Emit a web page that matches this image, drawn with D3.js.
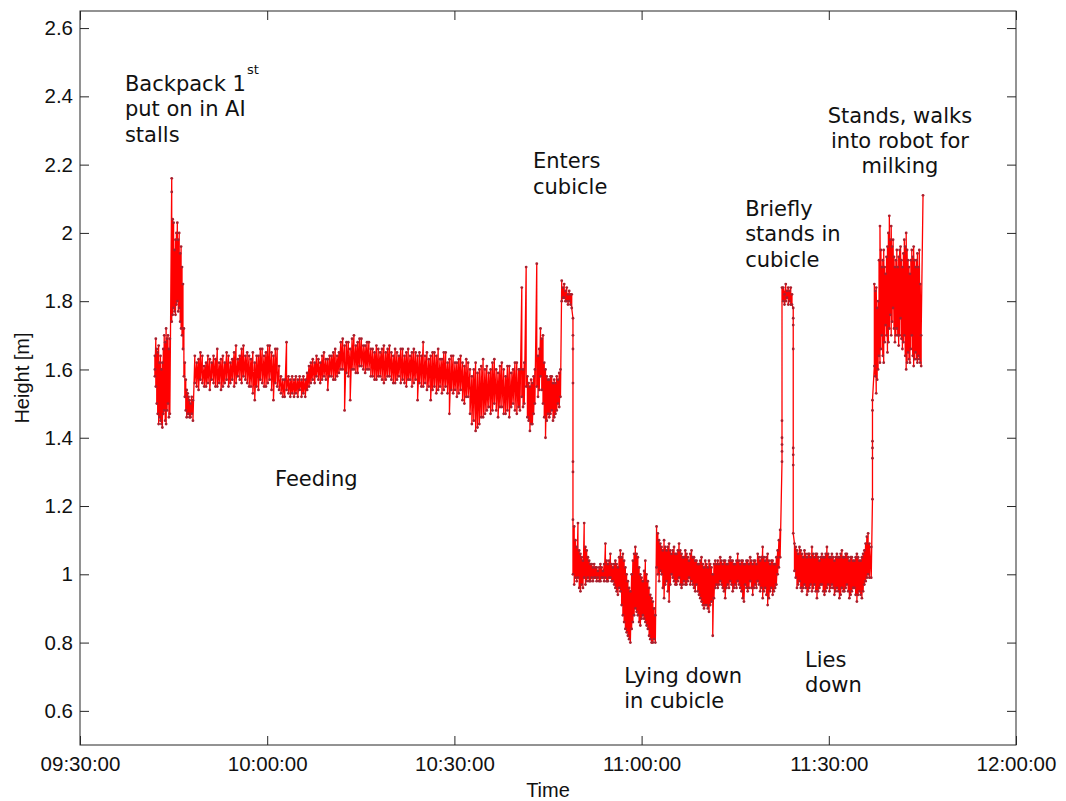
<!DOCTYPE html>
<html>
<head>
<meta charset="utf-8">
<title>Height over time</title>
<script src="https://cdnjs.cloudflare.com/ajax/libs/d3/7.8.5/d3.min.js"></script>
<style>
    body { margin: 0; background: #fff; }
    .tick text { font-family: "Liberation Sans", Arial, sans-serif; font-size: 20.5px; fill: #111; }
    .note { font-family: "DejaVu Sans", Verdana, sans-serif; font-size: 21px; fill: #111; }
    .axis-title { font-family: "Liberation Sans", Arial, sans-serif; font-size: 20px; fill: #111; }
</style>
</head>
<body>
<div id="chart"></div>
<script>
    // rows: [minutes after 09:30, height, height, ...] (heights visited in order at that time)
    var standing1 = [
        [12.0, 1.60, 1.64, 1.58], [12.15, 1.69, 1.55], [12.3, 1.66, 1.50], [12.45, 1.65, 1.47],
        [12.6, 1.67, 1.44], [12.75, 1.62, 1.46], [12.9, 1.64, 1.45], [13.05, 1.60, 1.44],
        [13.2, 1.62, 1.43], [13.35, 1.66, 1.47], [13.5, 1.70, 1.48], [13.65, 1.68, 1.45],
        [13.8, 1.72, 1.44], [13.95, 1.69, 1.48], [14.1, 1.70, 1.50], [14.25, 1.66, 1.46],
        [14.4, 1.69, 1.47], [14.7, 2.16, 2.12, 1.74], [14.85, 2.04, 1.76], [15.0, 2.03, 1.78],
        [15.15, 1.95, 1.77], [15.3, 1.98, 1.76], [15.45, 2.00, 1.79], [15.6, 2.03, 1.80],
        [15.75, 1.98, 1.77], [15.9, 2.00, 1.78], [16.05, 1.94, 1.74], [16.2, 1.96, 1.72],
        [16.35, 1.90, 1.70], [16.5, 1.85, 1.66], [16.65, 1.72, 1.58], [16.8, 1.62, 1.52],
        [16.95, 1.57, 1.48], [17.1, 1.54, 1.46], [17.25, 1.53, 1.47], [17.4, 1.52, 1.47],
        [17.55, 1.51, 1.46], [17.7, 1.50, 1.46], [17.9, 1.52, 1.47], [18.1, 1.51, 1.45]
    ];

    var feeding = [
        [18.4, 1.64, 1.56], [18.7, 1.62, 1.55], [19.0, 1.63, 1.54], [19.3, 1.65, 1.57], [19.6, 1.64, 1.56],
        [19.9, 1.61, 1.55], [20.2, 1.62, 1.55], [20.5, 1.64, 1.56], [20.8, 1.63, 1.54], [21.1, 1.62, 1.57],
        [21.4, 1.64, 1.56], [21.7, 1.63, 1.55], [22.0, 1.66, 1.55], [22.3, 1.62, 1.56], [22.6, 1.63, 1.54],
        [22.9, 1.64, 1.55], [23.2, 1.62, 1.56], [23.5, 1.65, 1.57], [23.8, 1.64, 1.55], [24.1, 1.62, 1.56],
        [24.4, 1.63, 1.57], [24.7, 1.65, 1.55], [25.0, 1.67, 1.56], [25.3, 1.63, 1.58], [25.6, 1.64, 1.57],
        [25.9, 1.66, 1.56], [26.2, 1.67, 1.58], [26.5, 1.64, 1.57], [26.8, 1.65, 1.56], [27.1, 1.64, 1.55],
        [27.4, 1.63, 1.55], [27.7, 1.65, 1.53], [28.0, 1.62, 1.51], [28.3, 1.64, 1.55], [28.6, 1.64, 1.54],
        [28.9, 1.66, 1.57], [29.2, 1.66, 1.56], [29.5, 1.64, 1.55], [29.8, 1.65, 1.55], [30.1, 1.67, 1.56],
        [30.4, 1.67, 1.57], [30.7, 1.65, 1.54], [31.0, 1.64, 1.51], [31.3, 1.66, 1.56], [31.6, 1.66, 1.55],
        [31.9, 1.61, 1.54], [32.2, 1.58, 1.53], [32.5, 1.57, 1.52], [32.8, 1.57, 1.52], [33.1, 1.68, 1.54],
        [33.4, 1.58, 1.53], [33.7, 1.57, 1.52], [34.0, 1.58, 1.53], [34.3, 1.57, 1.52], [34.6, 1.58, 1.53],
        [34.9, 1.57, 1.52], [35.2, 1.58, 1.54], [35.5, 1.57, 1.52], [35.8, 1.58, 1.53], [36.1, 1.57, 1.52],
        [36.4, 1.59, 1.54], [36.7, 1.61, 1.55], [37.0, 1.62, 1.56], [37.3, 1.63, 1.57], [37.6, 1.62, 1.56],
        [37.9, 1.64, 1.58], [38.2, 1.63, 1.57], [38.5, 1.62, 1.56], [38.8, 1.64, 1.57], [39.1, 1.65, 1.58],
        [39.4, 1.63, 1.57], [39.7, 1.63, 1.54], [40.0, 1.64, 1.58], [40.3, 1.64, 1.58], [40.6, 1.65, 1.57],
        [40.9, 1.66, 1.57], [41.2, 1.64, 1.58], [41.5, 1.65, 1.59], [41.8, 1.68, 1.60], [42.1, 1.69, 1.60],
        [42.4, 1.67, 1.48], [42.7, 1.68, 1.59], [43.0, 1.68, 1.58], [43.3, 1.66, 1.51], [43.6, 1.69, 1.60],
        [43.9, 1.70, 1.60], [44.2, 1.67, 1.59], [44.5, 1.68, 1.59], [44.8, 1.69, 1.61], [45.1, 1.69, 1.61],
        [45.4, 1.67, 1.60], [45.7, 1.67, 1.59], [46.0, 1.68, 1.60], [46.3, 1.68, 1.60], [46.6, 1.66, 1.58],
        [46.9, 1.66, 1.58], [47.2, 1.65, 1.57], [47.5, 1.67, 1.57], [47.8, 1.66, 1.58], [48.1, 1.65, 1.58],
        [48.4, 1.66, 1.57], [48.7, 1.67, 1.56], [49.0, 1.65, 1.57], [49.3, 1.66, 1.58], [49.6, 1.67, 1.58],
        [49.9, 1.65, 1.57], [50.2, 1.64, 1.56], [50.5, 1.66, 1.56], [50.8, 1.65, 1.57], [51.1, 1.64, 1.58],
        [51.4, 1.66, 1.56], [51.7, 1.66, 1.57], [52.0, 1.64, 1.56], [52.3, 1.65, 1.55], [52.6, 1.66, 1.57],
        [52.9, 1.64, 1.57], [53.2, 1.65, 1.55], [53.5, 1.66, 1.56], [53.8, 1.65, 1.57], [54.1, 1.64, 1.51],
        [54.4, 1.65, 1.56], [54.7, 1.64, 1.55], [55.0, 1.68, 1.55], [55.3, 1.64, 1.56], [55.6, 1.65, 1.54],
        [55.9, 1.63, 1.55], [56.2, 1.64, 1.51], [56.5, 1.65, 1.54], [56.8, 1.65, 1.55], [57.1, 1.64, 1.53],
        [57.4, 1.66, 1.54], [57.7, 1.63, 1.55], [58.0, 1.63, 1.53], [58.3, 1.65, 1.54], [58.6, 1.65, 1.55],
        [58.9, 1.62, 1.53], [59.2, 1.63, 1.47], [59.5, 1.64, 1.54], [59.8, 1.64, 1.53], [60.1, 1.62, 1.54],
        [60.4, 1.62, 1.52], [60.7, 1.63, 1.53], [61.0, 1.64, 1.54], [61.3, 1.62, 1.51], [61.6, 1.61, 1.50],
        [61.9, 1.63, 1.52], [62.2, 1.62, 1.52], [62.5, 1.60, 1.47], [62.8, 1.58, 1.44], [63.1, 1.60, 1.45],
        [63.4, 1.62, 1.42], [63.7, 1.59, 1.43], [64.0, 1.60, 1.44], [64.3, 1.61, 1.46], [64.6, 1.63, 1.46],
        [64.9, 1.60, 1.47], [65.2, 1.61, 1.48], [65.5, 1.59, 1.49], [65.8, 1.60, 1.47], [66.1, 1.62, 1.48],
        [66.4, 1.63, 1.50], [66.7, 1.60, 1.48], [67.0, 1.59, 1.46], [67.3, 1.61, 1.49], [67.6, 1.62, 1.49],
        [67.9, 1.60, 1.47], [68.2, 1.58, 1.47], [68.5, 1.61, 1.48], [68.8, 1.61, 1.46], [69.1, 1.59, 1.49],
        [69.4, 1.60, 1.50], [69.7, 1.62, 1.48], [70.0, 1.62, 1.47], [70.3, 1.60, 1.49]
    ];

    var enterCubicle = [
        [70.5, 1.60, 1.48], [70.8, 1.84, 1.52], [71.0, 1.60, 1.49], [71.2, 1.62, 1.50], [71.5, 1.90, 1.55],
        [71.7, 1.58, 1.46], [71.9, 1.56, 1.45], [72.1, 1.55, 1.42], [72.3, 1.57, 1.44], [72.5, 1.56, 1.44],
        [72.7, 1.58, 1.47], [72.9, 1.60, 1.50], [73.2, 1.91, 1.55], [73.4, 1.64, 1.52], [73.6, 1.66, 1.54],
        [73.8, 1.72, 1.58], [74.0, 1.69, 1.54], [74.2, 1.70, 1.50], [74.4, 1.62, 1.46], [74.6, 1.60, 1.40],
        [74.8, 1.58, 1.45], [75.0, 1.57, 1.47], [75.2, 1.57, 1.46], [75.4, 1.58, 1.47], [75.6, 1.58, 1.48],
        [75.8, 1.56, 1.45], [76.0, 1.57, 1.46], [76.2, 1.56, 1.47], [76.4, 1.58, 1.48], [76.6, 1.57, 1.50],
        [76.8, 1.59, 1.49], [77.0, 1.60, 1.52], [77.2, 1.86, 1.80], [77.4, 1.84, 1.81], [77.6, 1.85, 1.81],
        [77.8, 1.83, 1.80], [78.0, 1.84, 1.80], [78.2, 1.82, 1.79], [78.4, 1.83, 1.80], [78.6, 1.82, 1.79],
        [78.8, 1.82, 1.78], [79.0, 1.75, 1.70, 1.66, 1.56, 1.33, 1.30, 1.16, 1.00]
    ];

    var lying1 = [
        [79.2, 1.14, 0.97], [79.4, 1.10, 0.99], [79.6, 1.08, 0.98], [79.8, 1.15, 0.99], [80.0, 1.07, 0.96],
        [80.2, 1.06, 0.95], [80.4, 1.05, 0.97], [80.6, 1.04, 0.96], [80.8, 1.15, 0.99], [81.0, 1.08, 0.97],
        [81.2, 1.07, 0.98], [81.4, 1.05, 0.99], [81.6, 1.04, 0.98], [81.8, 1.03, 0.98], [82.0, 1.03, 0.99],
        [82.2, 1.02, 0.98], [82.4, 1.03, 0.99], [82.6, 1.02, 0.99], [82.8, 1.02, 0.98], [83.0, 1.01, 0.99],
        [83.2, 1.02, 0.98], [83.4, 1.03, 0.98], [83.6, 1.02, 0.99], [83.8, 1.01, 0.99], [84.0, 1.03, 0.98],
        [84.2, 1.09, 0.99], [84.4, 1.04, 0.98], [84.6, 1.03, 0.98], [84.8, 1.04, 0.99], [85.0, 1.06, 0.99],
        [85.2, 1.03, 0.98], [85.4, 1.02, 0.98], [85.6, 1.03, 0.97], [85.8, 1.04, 0.96], [86.0, 1.03, 0.95],
        [86.2, 1.02, 0.94], [86.4, 1.05, 0.96], [86.6, 1.07, 0.95], [86.8, 1.05, 0.91], [87.0, 1.06, 0.88],
        [87.2, 1.04, 0.86], [87.4, 1.02, 0.84], [87.6, 1.00, 0.83], [87.8, 0.98, 0.82], [88.0, 0.96, 0.81],
        [88.2, 0.95, 0.80], [88.4, 1.00, 0.84], [88.6, 1.04, 0.86], [88.8, 1.06, 0.88], [89.0, 1.08, 0.90],
        [89.2, 1.06, 0.89], [89.4, 1.05, 0.88], [89.6, 1.02, 0.86], [89.8, 1.00, 0.85], [90.0, 0.99, 0.87],
        [90.2, 0.98, 0.88], [90.4, 1.01, 0.87], [90.6, 1.04, 0.86], [90.8, 1.00, 0.85], [91.0, 0.98, 0.84],
        [91.2, 0.96, 0.82], [91.4, 0.94, 0.81], [91.6, 0.93, 0.80], [91.8, 0.92, 0.80], [92.0, 0.90, 0.81],
        [92.2, 0.88, 0.80],
        [92.4, 1.14, 1.02], [92.6, 1.12, 1.00], [92.8, 1.10, 0.98], [93.0, 1.09, 1.01], [93.2, 1.08, 1.00],
        [93.4, 1.07, 0.96], [93.6, 1.10, 0.93], [93.8, 1.08, 0.97], [94.0, 1.07, 0.98], [94.2, 1.08, 0.95],
        [94.4, 1.09, 0.92], [94.6, 1.07, 0.97], [94.8, 1.06, 1.00], [95.0, 1.07, 0.99], [95.2, 1.08, 0.98],
        [95.4, 1.06, 0.97], [95.6, 1.06, 0.97], [95.8, 1.07, 0.98], [96.0, 1.09, 0.99], [96.2, 1.07, 0.97],
        [96.4, 1.06, 0.96], [96.6, 1.05, 0.97], [96.8, 1.05, 0.98], [97.0, 1.07, 0.97], [97.2, 1.06, 0.97],
        [97.4, 1.05, 0.98], [97.6, 1.04, 0.99], [97.8, 1.06, 0.97], [98.0, 1.07, 0.98], [98.2, 1.05, 0.97],
        [98.4, 1.05, 0.96], [98.6, 1.04, 0.95], [98.8, 1.04, 0.97], [99.0, 1.03, 0.95], [99.2, 1.03, 0.94],
        [99.4, 1.04, 0.93], [99.6, 1.05, 0.92], [99.8, 1.03, 0.91], [100.0, 1.02, 0.90], [100.2, 1.04, 0.91],
        [100.4, 1.03, 0.91], [100.6, 1.02, 0.90], [100.8, 1.04, 0.89], [101.0, 1.03, 0.91], [101.2, 1.02, 0.92],
        [101.4, 1.00, 0.82], [101.6, 1.03, 0.93], [101.8, 1.04, 0.96], [102.0, 1.03, 0.97], [102.2, 1.04, 0.96],
        [102.4, 1.03, 0.97], [102.6, 1.05, 0.98], [102.8, 1.04, 0.97], [103.0, 1.03, 0.96], [103.2, 1.04, 0.95],
        [103.4, 1.04, 0.93], [103.6, 1.03, 0.96], [103.8, 1.03, 0.97], [104.0, 1.04, 0.96], [104.2, 1.05, 0.98],
        [104.4, 1.04, 0.97], [104.6, 1.04, 0.95], [104.8, 1.03, 0.96], [105.0, 1.03, 0.97], [105.2, 1.04, 0.96],
        [105.4, 1.06, 0.98], [105.6, 1.04, 0.97], [105.8, 1.03, 0.96], [106.0, 1.04, 0.95], [106.2, 1.04, 0.93],
        [106.4, 1.03, 0.92], [106.6, 1.03, 0.97], [106.8, 1.04, 0.96], [107.0, 1.04, 0.95], [107.2, 1.03, 0.96],
        [107.4, 1.05, 0.98], [107.6, 1.04, 0.96], [107.8, 1.03, 0.94], [108.0, 1.04, 0.96], [108.2, 1.04, 0.97],
        [108.4, 1.03, 0.96], [108.6, 1.06, 0.98], [108.8, 1.05, 0.97], [109.0, 1.04, 0.95], [109.2, 1.05, 0.96],
        [109.4, 1.08, 0.93], [109.6, 1.05, 0.95], [109.8, 1.04, 0.96], [110.0, 1.05, 0.94], [110.2, 1.06, 0.91],
        [110.4, 1.04, 0.93], [110.6, 1.03, 0.95], [110.8, 1.04, 0.96], [111.0, 1.04, 0.94], [111.2, 1.03, 0.95],
        [111.4, 1.03, 0.96], [111.6, 1.05, 0.97], [111.8, 1.07, 1.00], [112.0, 1.10, 1.02], [112.2, 1.13, 1.05]
    ];

    var briefStand = [
        [112.5, 1.33, 1.36, 1.38, 1.40, 1.45, 1.84], [112.7, 1.80, 1.84], [112.9, 1.82, 1.79],
        [113.1, 1.85, 1.80], [113.3, 1.83, 1.81], [113.5, 1.84, 1.79], [113.7, 1.83, 1.80],
        [113.9, 1.84, 1.79], [114.1, 1.82, 1.79],
        [114.3, 1.78, 1.75, 1.73, 1.66, 1.37, 1.35, 1.32, 1.12]
    ];

    var lying2 = [
        [114.5, 1.09, 1.01], [114.7, 1.08, 0.99], [114.9, 1.07, 0.96], [115.1, 1.06, 0.97], [115.3, 1.08, 0.98],
        [115.5, 1.07, 0.96], [115.7, 1.06, 0.95], [115.9, 1.05, 0.96], [116.1, 1.07, 0.97], [116.3, 1.06, 0.96],
        [116.5, 1.05, 0.94], [116.7, 1.06, 0.95], [116.9, 1.06, 0.96], [117.1, 1.05, 0.97], [117.3, 1.08, 0.95],
        [117.5, 1.06, 0.96], [117.7, 1.05, 0.97], [117.9, 1.06, 0.95], [118.1, 1.06, 0.93], [118.3, 1.05, 0.95],
        [118.5, 1.04, 0.96], [118.7, 1.05, 0.97], [118.9, 1.06, 0.97], [119.1, 1.05, 0.95], [119.3, 1.05, 0.94],
        [119.5, 1.06, 0.95], [119.7, 1.08, 0.96], [119.9, 1.06, 0.97], [120.1, 1.05, 0.95], [120.3, 1.05, 0.96],
        [120.5, 1.06, 0.97], [120.7, 1.05, 0.96], [120.9, 1.04, 0.94], [121.1, 1.05, 0.95], [121.3, 1.06, 0.96],
        [121.5, 1.05, 0.95], [121.7, 1.05, 0.93], [121.9, 1.06, 0.94], [122.1, 1.07, 0.96], [122.3, 1.05, 0.95],
        [122.5, 1.05, 0.95], [122.7, 1.06, 0.96], [122.9, 1.06, 0.97], [123.1, 1.05, 0.95], [123.3, 1.04, 0.93],
        [123.5, 1.05, 0.94], [123.7, 1.05, 0.95], [123.9, 1.04, 0.96], [124.1, 1.04, 0.96], [124.3, 1.05, 0.94],
        [124.5, 1.06, 0.92], [124.7, 1.05, 0.94], [124.9, 1.04, 0.95], [125.1, 1.04, 0.94], [125.3, 1.05, 0.93],
        [125.5, 1.06, 0.95], [125.7, 1.07, 0.97], [125.9, 1.09, 0.98], [126.1, 1.11, 0.99], [126.3, 1.12, 1.00],
        [126.5, 1.09, 0.99], [126.8, 1.08, 0.99]
    ];

    var robot = [
        [127.0, 1.22, 1.34, 1.37, 1.39, 1.48, 1.51], [127.3, 1.61, 1.85], [127.45, 1.58, 1.83],
        [127.6, 1.53, 1.84], [127.75, 1.57, 1.78], [127.9, 1.60, 1.80], [128.05, 1.64, 1.92],
        [128.2, 1.62, 2.02], [128.35, 1.66, 1.95], [128.5, 1.70, 1.90], [128.65, 1.64, 1.92],
        [128.8, 1.62, 1.95], [128.95, 1.68, 1.90], [129.1, 1.73, 1.88], [129.25, 1.70, 1.93],
        [129.4, 1.65, 1.96], [129.55, 1.68, 2.00], [129.7, 1.72, 2.05], [129.85, 1.76, 1.98],
        [130.0, 1.70, 2.02], [130.15, 1.74, 1.96], [130.3, 1.78, 1.98], [130.45, 1.72, 1.93],
        [130.6, 1.68, 1.90], [130.75, 1.70, 1.92], [130.9, 1.72, 1.95], [131.05, 1.70, 1.90],
        [131.2, 1.67, 1.93], [131.35, 1.70, 1.95], [131.5, 1.75, 1.96], [131.65, 1.69, 1.92],
        [131.8, 1.66, 1.90], [131.95, 1.68, 1.94], [132.1, 1.70, 1.98], [132.25, 1.64, 1.96],
        [132.4, 1.60, 2.00], [132.55, 1.62, 1.95], [132.7, 1.65, 1.92], [132.85, 1.63, 1.90],
        [133.0, 1.62, 1.88], [133.15, 1.66, 1.92], [133.3, 1.70, 1.95], [133.45, 1.64, 1.93],
        [133.6, 1.61, 1.96], [133.75, 1.63, 1.92], [133.9, 1.65, 1.90], [134.05, 1.63, 1.92],
        [134.2, 1.62, 1.94], [134.35, 1.64, 1.90], [134.5, 1.63, 1.95], [134.65, 1.62, 1.85],
        [134.8, 1.61, 1.70], [135.1, 2.11]
    ];

    var xTickLabels = ["09:30:00", "10:00:00", "10:30:00", "11:00:00", "11:30:00", "12:00:00"];
    var yTicks = [0.6, 0.8, 1.0, 1.2, 1.4, 1.6, 1.8, 2.0, 2.2, 2.4, 2.6];
    var yTickLabels = ["0.6", "0.8", "1", "1.2", "1.4", "1.6", "1.8", "2", "2.2", "2.4", "2.6"];

    // annotations: [minutes after 09:30, height of first baseline, text lines]
    var notes = [
        [7.2, 2.416, ["Backpack 1", "put on in AI", "stalls"]],
        [31.25, 1.259, ["Feeding"]],
        [72.6, 2.190, ["Enters", "cubicle"]],
        [106.6, 2.050, ["Briefly", "stands in", "cubicle"]],
        [87.2, 0.682, ["Lying down", "in cubicle"]],
        [116.2, 0.729, ["Lies", "down"]]
    ];
    var robotNote = [131.4, 2.322, ["Stands, walks", "into robot for", "milking"]];

    var width = 1066, height = 801;
    var plotLeft = 80, plotRight = 1016, plotTop = 11, plotBottom = 745;

    var base = new Date(2000, 0, 1, 9, 30, 0);
    function toDate(m) { return new Date(base.getTime() + m * 60000); }

    var x = d3.scaleTime()
        .domain([toDate(0), toDate(150)])
        .range([plotLeft, plotRight]);
    var y = d3.scaleLinear()
        .domain([0.5, 2.65])
        .range([plotBottom, plotTop]);

    var svg = d3.select("#chart").append("svg")
        .attr("width", width)
        .attr("height", height)
        .style("background", "#fff");

    // flatten all segments into one path in drawing order
    var points = [];
    [standing1, feeding, enterCubicle, lying1, briefStand, lying2, robot].forEach(function (seg) {
        seg.forEach(function (row) {
            for (var k = 1; k < row.length; k++) {
                points.push({ t: toDate(row[0]), h: row[k] });
            }
        });
    });

    var line = d3.line()
        .x(function (d) { return x(d.t); })
        .y(function (d) { return y(d.h); });

    svg.append("path")
        .datum(points)
        .attr("fill", "none")
        .attr("stroke", "#ff0000")
        .attr("stroke-width", 1.3)
        .attr("stroke-linejoin", "round")
        .attr("d", line);

    svg.append("g").selectAll("circle")
        .data(points)
        .enter().append("circle")
        .attr("cx", function (d) { return x(d.t); })
        .attr("cy", function (d) { return y(d.h); })
        .attr("r", 1.4)
        .attr("fill", "#a8202e");

    var xTickVals = xTickLabels.map(function (s, i) { return toDate(i * 30); });

    var axisColor = "#262626";

    var xAxis = svg.append("g")
        .attr("transform", "translate(0," + plotBottom + ")")
        .call(d3.axisBottom(x).tickValues(xTickVals)
            .tickFormat(function (d, i) { return xTickLabels[i]; })
            .tickSizeInner(-9).tickSizeOuter(0).tickPadding(11));
    var yAxis = svg.append("g")
        .attr("transform", "translate(" + plotLeft + ",0)")
        .call(d3.axisLeft(y).tickValues(yTicks)
            .tickFormat(function (d, i) { return yTickLabels[i]; })
            .tickSizeInner(-9).tickSizeOuter(0).tickPadding(7));
    var xTop = svg.append("g")
        .attr("transform", "translate(0," + plotTop + ")")
        .call(d3.axisTop(x).tickValues(xTickVals).tickFormat("").tickSizeInner(-9).tickSizeOuter(0));
    var yRight = svg.append("g")
        .attr("transform", "translate(" + plotRight + ",0)")
        .call(d3.axisRight(y).tickValues(yTicks).tickFormat("").tickSizeInner(-9).tickSizeOuter(0));

    [xAxis, yAxis, xTop, yRight].forEach(function (g) {
        g.select(".domain").remove();
        g.selectAll(".tick line").attr("stroke", axisColor);
        g.selectAll(".tick text").attr("fill", "#111");
    });

    svg.append("rect")
        .attr("x", plotLeft)
        .attr("y", plotTop)
        .attr("width", plotRight - plotLeft)
        .attr("height", plotBottom - plotTop)
        .attr("fill", "none")
        .attr("stroke", axisColor)
        .attr("stroke-width", 1);

    svg.append("text")
        .attr("class", "axis-title")
        .attr("x", (plotLeft + plotRight) / 2)
        .attr("y", 797)
        .attr("text-anchor", "middle")
        .text("Time");

    svg.append("text")
        .attr("class", "axis-title")
        .attr("transform", "translate(29," + ((plotTop + plotBottom) / 2) + ") rotate(-90)")
        .attr("text-anchor", "middle")
        .text("Height [m]");

    notes.forEach(function (n) {
        var t = svg.append("text")
            .attr("class", "note")
            .attr("x", x(toDate(n[0])))
            .attr("y", y(n[1]));
        n[2].forEach(function (s, i) {
            t.append("tspan")
                .attr("x", x(toDate(n[0])))
                .attr("dy", i === 0 ? 0 : 25.5)
                .text(s);
        });
    });

    // superscript on "1st"
    svg.append("text")
        .attr("class", "note")
        .attr("x", 247)
        .attr("y", 74)
        .style("font-size", "13px")
        .text("st");

    var rt = svg.append("text")
        .attr("class", "note")
        .attr("text-anchor", "middle")
        .attr("x", x(toDate(robotNote[0])))
        .attr("y", y(robotNote[1]));
    robotNote[2].forEach(function (s, i) {
        rt.append("tspan")
            .attr("x", x(toDate(robotNote[0])))
            .attr("dy", i === 0 ? 0 : 25)
            .text(s);
    });
</script>
</body>
</html>
